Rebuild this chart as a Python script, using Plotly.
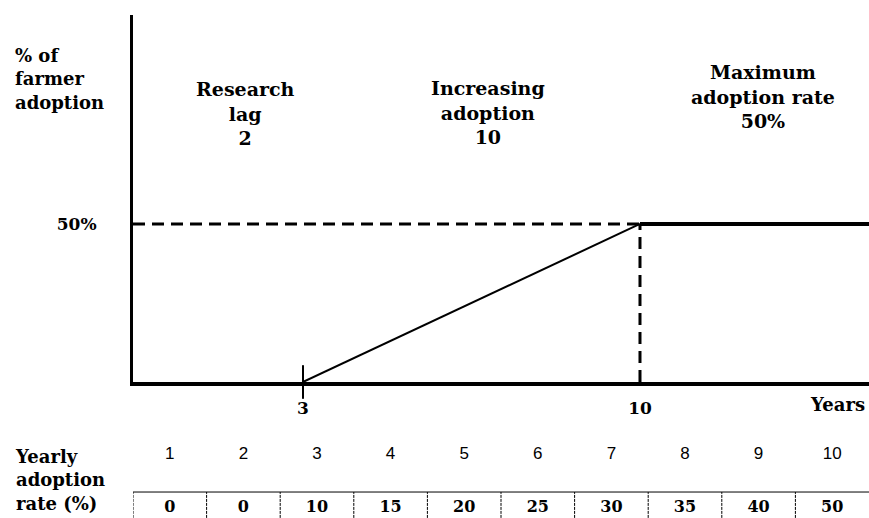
import plotly.graph_objects as go

# ---- data ----
lag_end_year = 3          # adoption starts
max_year = 10             # maximum adoption reached
max_rate = 50             # maximum adoption (%)
x_axis_ticks = [3, 10]
x_axis_ticktext = ["3", "10"]
y_axis_ticks = [50]
y_axis_ticktext = ["50%"]
table_years = [1, 2, 3, 4, 5, 6, 7, 8, 9, 10]
table_rates = [0, 0, 10, 15, 20, 25, 30, 35, 40, 50]

W, H = 869, 518
X_RANGE = [-0.531, 14.757]
Y_RANGE = [0, 116.1]

SERIF = "DejaVu Serif"
SANS = "Liberation Sans"
BLACK = "#000000"

fig = go.Figure()

# dashed horizontal to max level
fig.add_trace(go.Scatter(x=[X_RANGE[0], max_year], y=[max_rate, max_rate], mode="lines",
                         line=dict(color=BLACK, width=3, dash="12px,7px"), hoverinfo="skip"))
# dashed vertical at max year
fig.add_trace(go.Scatter(x=[max_year, max_year], y=[0, max_rate], mode="lines",
                         line=dict(color=BLACK, width=3, dash="12px,7px"), hoverinfo="skip"))
# solid plateau
fig.add_trace(go.Scatter(x=[max_year, X_RANGE[1]], y=[max_rate, max_rate], mode="lines",
                         line=dict(color=BLACK, width=4), hoverinfo="skip", cliponaxis=False))
# increasing adoption line
fig.add_trace(go.Scatter(x=[lag_end_year, max_year], y=[0, max_rate], mode="lines",
                         line=dict(color=BLACK, width=2), hoverinfo="skip"))
# tick mark at start of adoption
fig.add_trace(go.Scatter(x=[lag_end_year], y=[0], mode="markers",
                         marker=dict(symbol="line-ns", size=24, line=dict(color=BLACK, width=2)),
                         hoverinfo="skip", cliponaxis=False))

# table: year numbers
fig.add_trace(go.Scatter(x=table_years, y=[0.808] * len(table_years), mode="text",
                         text=[str(v) for v in table_years], xaxis="x2", yaxis="y2",
                         textfont=dict(family=SANS, size=17, color=BLACK), hoverinfo="skip"))
# table: rates
fig.add_trace(go.Scatter(x=table_years, y=[0.128] * len(table_years), mode="text",
                         text=["<b>%d</b>" % v for v in table_rates], xaxis="x2", yaxis="y2",
                         textfont=dict(family=SERIF, size=16, color=BLACK), hoverinfo="skip"))

shapes = [dict(type="line", xref="x2", yref="y2", x0=0.5, x1=10.5, y0=0.333, y1=0.333,
               line=dict(color=BLACK, width=1))]
for i in range(len(table_years)):
    b = table_years[i] - 0.5
    shapes.append(dict(type="line", xref="x2", yref="y2", x0=b, x1=b, y0=-0.05, y1=0.333,
                       line=dict(color=BLACK, width=1, dash="3px,1px")))

def ann(text, px, py, size=18, xanchor="center", align="center", font=SERIF):
    return dict(text=text, x=px / W, y=(H - py) / H, xref="paper", yref="paper",
                xanchor=xanchor, yanchor="middle", align=align, showarrow=False,
                font=dict(family=font, size=size, color=BLACK))

annotations = [
    ann("<b>% of<br>farmer<br>adoption</b>", 13, 79, xanchor="left", align="left"),
    ann("<b>Research<br>lag<br>2</b>", 245, 113, size=19),
    ann("<b>Increasing<br>adoption<br>10</b>", 488, 112, size=19),
    ann("<b>Maximum<br>adoption rate<br>50%</b>", 763, 97, size=19),
    ann("<b>Years</b>", 837, 404),
    ann("<b>Yearly<br>adoption<br>rate (%)</b>", 13, 480, xanchor="left", align="left"),
]

fig.update_layout(
    width=W, height=H,
    margin=dict(l=0, r=0, t=0, b=0),
    paper_bgcolor="white", plot_bgcolor="white",
    showlegend=False,
    shapes=shapes,
    annotations=annotations,
    xaxis=dict(domain=[133 / W, 1], range=X_RANGE, showgrid=False, zeroline=False,
               showline=True, linecolor=BLACK, linewidth=4, ticks="",
               tickvals=x_axis_ticks, ticktext=["<b>%s</b>" % t for t in x_axis_ticktext],
               tickfont=dict(family=SERIF, size=17, color=BLACK), ticklabelstandoff=8),
    yaxis=dict(domain=[(H - 382) / H, (H - 15) / H], range=Y_RANGE, showgrid=False, zeroline=False,
               showline=True, linecolor=BLACK, linewidth=3, ticks="",
               tickvals=y_axis_ticks, ticktext=["<b>%s</b>" % t for t in y_axis_ticktext],
               tickfont=dict(family=SERIF, size=17, color=BLACK), ticklabelstandoff=30),
    xaxis2=dict(domain=[133 / W, 1], range=[0.5, 10.5], anchor="y2", visible=False),
    yaxis2=dict(domain=[0, (H - 440) / H], range=[0, 1], anchor="x2", visible=False),
)

fig.write_html("out.html", config={"displayModeBar": False},
               post_script="document.body.style.margin='0px';")
